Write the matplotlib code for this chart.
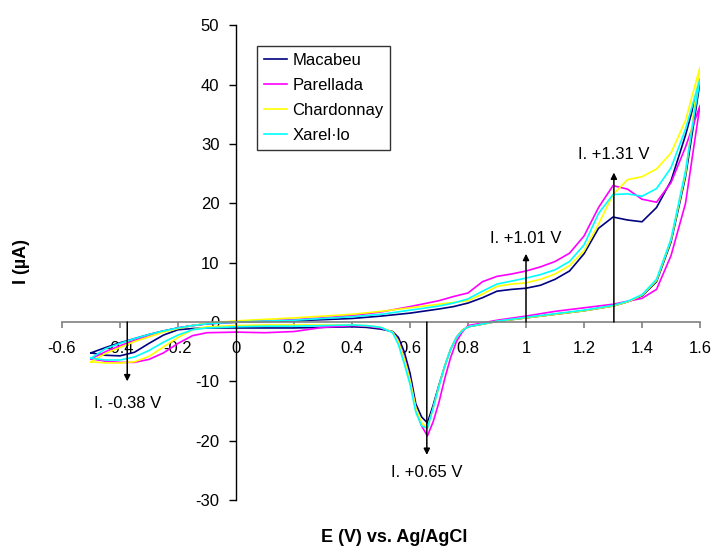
import matplotlib
matplotlib.use("Agg")
import matplotlib.pyplot as plt

plt.rcParams['font.family'] = ['Liberation Sans', 'DejaVu Sans']
plt.rcParams['axes.unicode_minus'] = False

# forward (anodic) scan, -0.5 -> 1.6 V
E_fwd = [-0.5, -0.45, -0.4, -0.35, -0.3, -0.25, -0.2, -0.15, -0.1, 0.0, 0.1, 0.2,
         0.3, 0.4, 0.5, 0.6, 0.7, 0.75, 0.8, 0.85, 0.9, 0.95, 1.0, 1.05, 1.1, 1.15,
         1.2, 1.25, 1.3, 1.35, 1.4, 1.45, 1.5, 1.55, 1.6]
macabeu_fwd = [-5.2, -4.3, -3.5, -2.8, -2.1, -1.5, -1.0, -0.6, -0.3, 0.0, 0.1, 0.2,
               0.4, 0.6, 1.0, 1.5, 2.2, 2.6, 3.2, 4.1, 5.2, 5.5, 5.7, 6.2, 7.2, 8.6,
               11.5, 15.8, 17.7, 17.2, 16.9, 19.3, 23.8, 31.5, 40.5]
parellada_fwd = [-6.2, -5.0, -4.0, -3.1, -2.3, -1.6, -1.0, -0.6, -0.3, 0.0, 0.2, 0.4,
                 0.7, 1.1, 1.7, 2.6, 3.6, 4.3, 4.9, 6.8, 7.7, 8.1, 8.6, 9.3, 10.2, 11.6,
                 14.5, 19.3, 23.0, 22.4, 20.7, 20.2, 23.5, 29.5, 36.5]
chardonnay_fwd = [-6.7, -5.3, -4.3, -3.3, -2.5, -1.7, -1.1, -0.6, -0.2, 0.2, 0.45, 0.7,
                  1.0, 1.3, 1.8, 2.4, 3.0, 3.3, 3.6, 4.7, 6.0, 6.4, 6.6, 7.2, 8.1, 9.5,
                  12.0, 16.5, 21.5, 24.0, 24.5, 25.8, 28.5, 34.0, 43.0]
xarello_fwd = [-6.1, -4.5, -3.6, -2.8, -2.1, -1.5, -1.0, -0.6, -0.3, 0.0, 0.15, 0.3,
               0.6, 0.9, 1.3, 2.0, 2.7, 3.2, 3.9, 5.2, 6.4, 6.9, 7.4, 8.0, 8.8, 10.2,
               13.0, 18.3, 21.5, 21.6, 21.2, 22.5, 26.0, 32.5, 41.0]

# reverse (cathodic) scan, 1.6 -> -0.5 V
E_rev = [1.6, 1.58, 1.55, 1.5, 1.45, 1.4, 1.35, 1.3, 1.2, 1.1, 1.0, 0.9, 0.8, 0.78,
         0.76, 0.74, 0.72, 0.7, 0.68, 0.66, 0.64, 0.62, 0.6, 0.58, 0.56, 0.54, 0.5,
         0.45, 0.4, 0.3, 0.2, 0.1, 0.0, -0.1, -0.15, -0.2, -0.25, -0.3, -0.35, -0.4,
         -0.45, -0.5]
macabeu_rev = [40.5, 34.0, 24.5, 13.5, 6.8, 4.4, 3.4, 2.7, 1.9, 1.3, 0.7, 0.1, -0.8,
               -1.4, -2.6, -4.6, -7.4, -10.6, -14.0, -17.0, -16.0, -13.8, -8.6, -5.0,
               -2.6, -1.6, -1.2, -0.9, -0.8, -0.9, -1.0, -1.0, -1.0, -1.0, -1.1, -1.3,
               -2.2, -3.6, -5.1, -5.7, -5.6, -5.2]
parellada_rev = [36.5, 30.0, 20.0, 11.2, 5.5, 4.0, 3.5, 3.0, 2.4, 1.8, 1.0, 0.3, -0.6,
                 -1.7, -3.3, -6.0, -9.5, -13.5, -16.8, -19.2, -17.5, -14.5, -9.8, -6.0,
                 -3.2, -1.7, -1.0, -0.7, -0.6, -0.9, -1.6, -1.8, -1.7, -1.8, -2.3, -3.6,
                 -5.2, -6.3, -6.8, -6.8, -6.6, -6.2]
chardonnay_rev = [43.0, 36.0, 25.0, 13.8, 7.0, 4.5, 3.4, 2.7, 1.9, 1.3, 0.7, 0.1, -0.8,
                  -1.4, -2.6, -4.6, -7.4, -10.8, -14.5, -17.9, -17.0, -14.5, -9.8, -6.2,
                  -3.3, -1.7, -0.9, -0.6, -0.5, -0.5, -0.5, -0.5, -0.6, -0.8, -1.3, -2.6,
                  -4.2, -5.8, -6.7, -6.9, -6.9, -6.7]
xarello_rev = [41.0, 35.0, 25.5, 14.0, 7.2, 4.6, 3.5, 2.8, 2.0, 1.4, 0.8, 0.15, -0.8,
               -1.5, -2.6, -4.6, -7.4, -10.8, -14.5, -17.9, -17.5, -15.2, -10.5, -7.0,
               -3.8, -1.8, -0.9, -0.6, -0.5, -0.6, -0.7, -0.7, -0.8, -1.0, -1.3, -2.2,
               -3.4, -4.8, -5.9, -6.4, -6.4, -6.1]

names = ['Macabeu', 'Parellada', 'Chardonnay', 'Xarel\u00b7lo']
colors = ['#000080', '#FF00FF', '#FFFF00', '#00FFFF']

# peak markers: (potential, arrow tip, label y, text)
peak_E = [-0.375, 0.658, 1.0, 1.303]
peak_tip = [-10.0, -22.4, 11.5, 25.2]
peak_text_y = [-13.7, -25.3, 14.1, 28.2]
peak_text = ['I. -0.38 V', 'I. +0.65 V', 'I. +1.01 V', 'I. +1.31 V']

fig = plt.figure(figsize=(7.19, 5.48), dpi=100)
ax = fig.add_axes([0.0862, 0.0876, 0.8874, 0.866])

fwd = [macabeu_fwd, parellada_fwd, chardonnay_fwd, xarello_fwd]
rev = [macabeu_rev, parellada_rev, chardonnay_rev, xarello_rev]
for name, c, yf, yr in zip(names, colors, fwd, rev):
    ax.plot(E_fwd + E_rev, yf + yr, color=c, lw=1.2, label=name)

for x, tip, ty, t in zip(peak_E, peak_tip, peak_text_y, peak_text):
    ax.annotate('', xy=(x, tip), xytext=(x, 0),
                arrowprops=dict(arrowstyle='-|>', color='k', lw=1.1,
                                mutation_scale=9, shrinkA=0, shrinkB=0))
    ax.text(x, ty, t, ha='center', va='center', fontsize=12)

ax.set_xlim(-0.6, 1.6)
ax.set_ylim(-30, 50)
ax.spines['top'].set_visible(False)
ax.spines['right'].set_visible(False)
ax.spines['left'].set_position(('data', 0))
ax.spines['bottom'].set_position(('data', 0))
ax.spines['bottom'].set_color('#808080')
ax.spines['left'].set_linewidth(1.0)
ax.spines['bottom'].set_linewidth(1.2)

xt = [-0.6, -0.4, -0.2, 0, 0.2, 0.4, 0.6, 0.8, 1, 1.2, 1.4, 1.6]
ax.set_xticks(xt)
ax.set_xticklabels(['-0.6', '-0.4', '-0.2', '0', '0.2', '0.4', '0.6', '0.8',
                    '1', '1.2', '1.4', '1.6'])
ax.set_yticks(range(-30, 51, 10))
ax.tick_params(axis='x', direction='out', length=4.5, width=1.2, color='#808080',
               pad=9, labelsize=12)
ax.tick_params(axis='y', direction='out', length=5, width=1.0, color='k',
               pad=7, labelsize=12)

leg = ax.legend(loc='upper left', bbox_to_anchor=(0.306, 0.956), borderaxespad=0,
                fontsize=12, frameon=True, fancybox=False, handlelength=1.4,
                handletextpad=0.3, labelspacing=0.6, borderpad=0.4)
leg.get_frame().set_edgecolor('k')
leg.get_frame().set_linewidth(1.0)

fig.text(394 / 719, 1 - 538 / 548, 'E (V) vs. Ag/AgCl', ha='center', va='center',
         fontsize=13, fontweight='bold')
fig.text(22 / 719, 1 - 261.5 / 548, 'I (\u00b5A)', ha='center', va='center',
         rotation=90, fontsize=13, fontweight='bold')

fig.savefig('out.png', dpi=100)
